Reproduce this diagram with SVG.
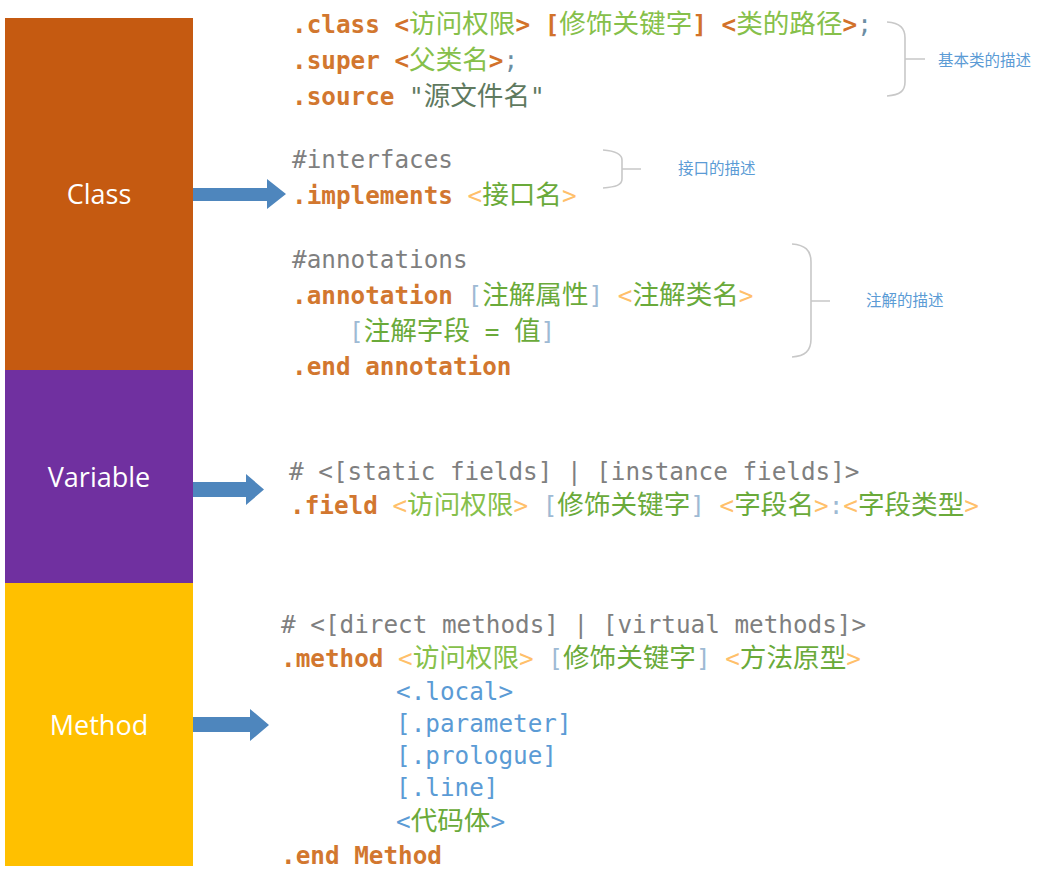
<svg xmlns="http://www.w3.org/2000/svg" width="1042" height="884" viewBox="0 0 1042 884">
<style>
.code{font-family:"DejaVu Sans Mono","Liberation Mono","Noto Sans CJK SC",monospace;font-size:24.3px;white-space:pre}
.c{font-family:"Noto Sans CJK SC",sans-serif;font-size:26.6px}
.d{fill:#D2772F;font-weight:bold}
.dk{fill:#D2722A;font-weight:bold}
.g1{fill:#86C04A}
.g2{fill:#6AAA3A}
.semi{fill:#6C8EA4}
.src{fill:#5F7A5F}
.cm{fill:#7F7F7F}
.la{fill:#FFC06A}
.br{fill:#9EBAD4}
.bl{fill:#5B9BD5}
.lbl{font-family:"Open Sans","Liberation Sans",sans-serif;font-size:27px;fill:#FFFFFF;text-anchor:middle}
.note{font-family:"Noto Sans CJK SC",sans-serif;font-size:15.5px;fill:#5B9BD5}
.brace{fill:none;stroke:#C8C8C8;stroke-width:1.6}
.arrow{fill:#4E86BD}
</style>
<rect width="1042" height="884" fill="#FFFFFF"/>
<g id="node-class">
<rect x="5" y="18" width="188" height="352" fill="#C55A11"/>
<text class="lbl" x="99" y="204">Class</text>
</g>
<g id="node-variable">
<rect x="5" y="370" width="188" height="213" fill="#7030A0"/>
<text class="lbl" x="99" y="487">Variable</text>
</g>
<g id="node-method">
<rect x="5" y="583" width="188" height="283" fill="#FFC000"/>
<text class="lbl" x="99" y="735">Method</text>
</g>
<g id="connectors">
<path class="arrow" d="M193,188 H267 V179 L286,194 L267,209 V201 H193 Z"/>
<path class="arrow" d="M193,482 H246 V474 L264,489.5 L246,505 V497 H193 Z"/>
<path class="arrow" d="M193,717 H250 V709 L269,725 L250,741 V732 H193 Z"/>
</g>
<g id="class-code">
<text class="code" x="292" y="33" xml:space="preserve"><tspan class="d">.class </tspan><tspan class="dk">&lt;</tspan><tspan class="c g1">访问权限</tspan><tspan class="dk">&gt; [</tspan><tspan class="c g1">修饰关键字</tspan><tspan class="dk">] &lt;</tspan><tspan class="c g1">类的路径</tspan><tspan class="dk">&gt;</tspan><tspan class="semi">;</tspan></text>
<text class="code" x="292" y="69" xml:space="preserve"><tspan class="d">.super </tspan><tspan class="dk">&lt;</tspan><tspan class="c g1">父类名</tspan><tspan class="dk">&gt;</tspan><tspan class="semi">;</tspan></text>
<text class="code" x="292" y="105" xml:space="preserve"><tspan class="d">.source </tspan><tspan class="src">"</tspan><tspan class="c src">源文件名</tspan><tspan class="src">"</tspan></text>
<text class="code cm" x="292" y="168">#interfaces</text>
<text class="code" x="292" y="204" xml:space="preserve"><tspan class="d">.implements </tspan><tspan class="la">&lt;</tspan><tspan class="c g2">接口名</tspan><tspan class="la">&gt;</tspan></text>
<text class="code cm" x="292" y="268">#annotations</text>
<text class="code" x="292" y="304" xml:space="preserve"><tspan class="d">.annotation </tspan><tspan class="br">[</tspan><tspan class="c g2">注解属性</tspan><tspan class="br">]</tspan> <tspan class="la">&lt;</tspan><tspan class="c g2">注解类名</tspan><tspan class="la">&gt;</tspan></text>
<text class="code" x="349" y="340" xml:space="preserve"><tspan class="br">[</tspan><tspan class="c g2">注解字段</tspan><tspan class="g2"> = </tspan><tspan class="c g2">值</tspan><tspan class="br">]</tspan></text>
<text class="code d" x="292" y="375">.end annotation</text>
</g>
<g id="variable-code">
<text class="code cm" x="289" y="480"># &lt;[static fields] | [instance fields]&gt;</text>
<text class="code" x="290" y="514" xml:space="preserve"><tspan class="d">.field </tspan><tspan class="la">&lt;</tspan><tspan class="c g1">访问权限</tspan><tspan class="la">&gt;</tspan> <tspan class="br">[</tspan><tspan class="c g2">修饰关键字</tspan><tspan class="br">]</tspan> <tspan class="la">&lt;</tspan><tspan class="c g2">字段名</tspan><tspan class="la">&gt;</tspan><tspan class="br">:</tspan><tspan class="la">&lt;</tspan><tspan class="c g2">字段类型</tspan><tspan class="la">&gt;</tspan></text>
</g>
<g id="method-code">
<text class="code cm" x="281" y="633"># &lt;[direct methods] | [virtual methods]&gt;</text>
<text class="code" x="281" y="667" xml:space="preserve"><tspan class="d">.method </tspan><tspan class="la">&lt;</tspan><tspan class="c g1">访问权限</tspan><tspan class="la">&gt;</tspan> <tspan class="br">[</tspan><tspan class="c g2">修饰关键字</tspan><tspan class="br">]</tspan> <tspan class="la">&lt;</tspan><tspan class="c g2">方法原型</tspan><tspan class="la">&gt;</tspan></text>
<text class="code bl" x="396" y="700">&lt;.local&gt;</text>
<text class="code bl" x="396" y="732">[.parameter]</text>
<text class="code bl" x="396" y="764">[.prologue]</text>
<text class="code bl" x="396" y="796">[.line]</text>
<text class="code" x="396" y="830" xml:space="preserve"><tspan class="bl">&lt;</tspan><tspan class="c g2">代码体</tspan><tspan class="bl">&gt;</tspan></text>
<text class="code d" x="281" y="864">.end Method</text>
</g>
<g id="brace-basic">
<path class="brace" d="M887,22 C900,23 905,28 905,38 L905,82 C905,91 900,95 887,96 M905,59 H925"/>
<text class="note" x="938" y="66">基本类的描述</text>
</g>
<g id="brace-interface">
<path class="brace" d="M603,150 C616,151 622,154 622,160 L622,179 C622,185 616,187 603,188 M622,169 H641"/>
<text class="note" x="678" y="174">接口的描述</text>
</g>
<g id="brace-annotation">
<path class="brace" d="M792,244 C805,245 811,250 811,262 L811,339 C811,351 805,356 792,357 M811,301 H830"/>
<text class="note" x="866" y="306">注解的描述</text>
</g>
</svg>
